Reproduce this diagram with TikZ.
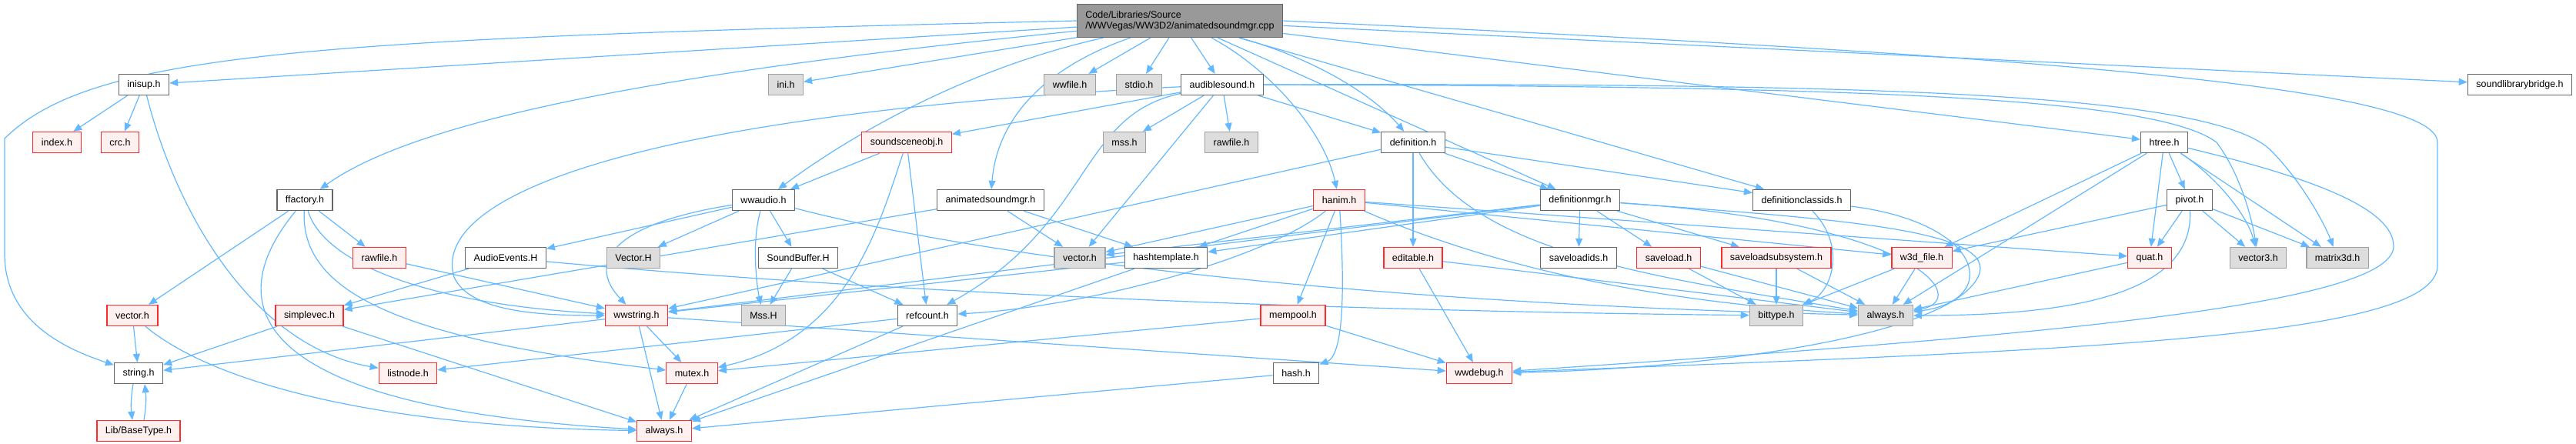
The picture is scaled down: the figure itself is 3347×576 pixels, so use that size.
\documentclass[tikz,border=0pt]{standalone}
\usepackage{fontspec}
\setmainfont{Liberation Sans}
\usetikzlibrary{arrows.meta,backgrounds}
\definecolor{edgeblue}{HTML}{63B8FF}
\definecolor{hdrborder}{HTML}{666666}
\definecolor{sysborder}{HTML}{A0A0A0}
\definecolor{sysfill}{HTML}{DDDDDD}
\definecolor{redborder}{HTML}{FF2A2A}
\definecolor{redfill}{HTML}{FFF0F0}
\definecolor{mainfill}{HTML}{999999}
\begin{document}
\begin{tikzpicture}[x=1pt, y=-1pt, >={Triangle[length=11pt,width=9pt]},
    hdr/.style={draw=hdrborder, fill=white, line width=1.3pt, minimum height=27pt, inner xsep=11pt, inner ysep=0pt, font=\fontsize{12.5}{14}\selectfont},
    syshdr/.style={hdr, draw=sysborder, fill=sysfill},
    redhdr/.style={hdr, draw=redborder, fill=redfill},
    mainfile/.style={hdr, fill=mainfill, align=left, minimum height=43pt},
    incl/.style={->, draw=edgeblue, line width=1.2pt}]
    \useasboundingbox (0,0) rectangle (3347,576);
    % File principale
    \node[mainfile] (main) at (1533,27) {Code/Libraries/Source\\/WWVegas/WW3D2/animatedsoundmgr.cpp};
    % Livello 1
    \node[hdr] (inisup) at (187,110) {inisup.h};
    \node[syshdr] (ini) at (1021,110) {ini.h};
    \node[syshdr] (wwfile) at (1390,110) {wwfile.h};
    \node[syshdr] (stdio) at (1480,110) {stdio.h};
    \node[hdr] (audible) at (1588,110) {audiblesound.h};
    \node[hdr] (bridge) at (3274,110) {soundlibrarybridge.h};
    % Livello 2
    \node[redhdr] (index) at (74,185) {index.h};
    \node[redhdr] (crc) at (156,185) {crc.h};
    \node[redhdr] (sceneobj) at (1178,185) {soundsceneobj.h};
    \node[syshdr] (mss) at (1461,185) {mss.h};
    \node[syshdr] (rawfileg) at (1600,185) {rawfile.h};
    \node[hdr] (definition) at (1836,185) {definition.h};
    \node[hdr] (htree) at (2812,185) {htree.h};
    % Livello 3
    \node[hdr] (ffactory) at (396,260) {ffactory.h};
    \node[hdr] (wwaudio) at (992,260) {wwaudio.h};
    \node[hdr] (animmgrh) at (1287,260) {animatedsoundmgr.h};
    \node[redhdr] (hanim) at (1740,260) {hanim.h};
    \node[hdr] (defmgr) at (2053,260) {definitionmgr.h};
    \node[hdr] (defclassids) at (2341,260) {definitionclassids.h};
    \node[hdr] (pivot) at (2845,260) {pivot.h};
    % Livello 4
    \node[redhdr] (rawfile) at (493,335) {rawfile.h};
    \node[hdr] (audioevents) at (657,335) {AudioEvents.H};
    \node[syshdr] (vectorH) at (823,335) {Vector.H};
    \node[hdr] (soundbuffer) at (1037,335) {SoundBuffer.H};
    \node[syshdr] (vectorg) at (1403,335) {vector.h};
    \node[hdr] (hashtemplate) at (1515,335) {hashtemplate.h};
    \node[redhdr] (editable) at (1836,335) {editable.h};
    \node[hdr] (saveloadids) at (2051,335) {saveloadids.h};
    \node[redhdr] (saveload) at (2168,335) {saveload.h};
    \node[redhdr] (saveloadsub) at (2308,335) {saveloadsubsystem.h};
    \node[redhdr] (w3dfile) at (2497,335) {w3d\_file.h};
    \node[redhdr] (quat) at (2793,335) {quat.h};
    \node[syshdr] (vector3) at (2934,335) {vector3.h};
    \node[syshdr] (matrix3d) at (3037,335) {matrix3d.h};
    % Livello 5
    \node[redhdr] (vectorr) at (172,410) {vector.h};
    \node[redhdr] (simplevec) at (402,410) {simplevec.h};
    \node[redhdr] (wwstring) at (827,410) {wwstring.h};
    \node[syshdr] (mssH) at (992,410) {Mss.H};
    \node[hdr] (refcount) at (1205,410) {refcount.h};
    \node[redhdr] (mempool) at (1680,410) {mempool.h};
    \node[syshdr] (bittype) at (2308,410) {bittype.h};
    \node[syshdr] (alwaysg) at (2450,410) {always.h};
    % Livello 6
    \node[hdr] (string) at (180,485) {string.h};
    \node[redhdr] (listnode) at (530,485) {listnode.h};
    \node[redhdr] (mutex) at (899,485) {mutex.h};
    \node[hdr] (hash) at (1684,485) {hash.h};
    \node[redhdr] (wwdebug) at (1922,485) {wwdebug.h};
    % Livello 7
    \node[redhdr] (basetype) at (180,560) {Lib/BaseType.h};
    \node[redhdr] (alwaysr) at (863,560) {always.h};

    \begin{pgfonlayer}{background}
    % Frecce dal file principale
    \draw[incl] (main) -- (inisup);
    \draw[incl] (main) -- (ini);
    \draw[incl] (main) -- (wwfile);
    \draw[incl] (main) -- (stdio);
    \draw[incl] (main) -- (audible);
    \draw[incl] (main.west) .. controls (400,50) and (120,68) .. (6,180) -- (6,330) .. controls (6,420) and (90,455) .. (string);
    \draw[incl] (main) .. controls (900,90) and (550,150) .. (ffactory);
    \draw[incl] (main) .. controls (1250,90) and (1100,180) .. (wwaudio);
    \draw[incl] (main) .. controls (1350,90) and (1295,160) .. (animmgrh);
    \draw[incl] (main) .. controls (1650,90) and (1720,170) .. (hanim);
    \draw[incl] (main) .. controls (1720,80) and (1790,130) .. (definition);
    \draw[incl] (main) -- (defmgr);
    \draw[incl] (main) -- (defclassids);
    \draw[incl] (main) -- (htree);
    \draw[incl] (main) -- (bridge);
    \draw[incl] (main.east) .. controls (2600,70) and (3167,110) .. (3167,185) -- (3167,345) .. controls (3167,440) and (2700,455) .. (wwdebug);

    % inisup.h e ffactory.h
    \draw[incl] (inisup) -- (index);
    \draw[incl] (inisup) -- (crc);
    \draw[incl] (inisup) .. controls (230,280) and (330,450) .. (listnode);
    \draw[incl] (ffactory) -- (vectorr);
    \draw[incl] (ffactory) -- (rawfile);
    \draw[incl] (ffactory) .. controls (420,340) and (550,395) .. (wwstring);
    \draw[incl] (ffactory) .. controls (390,380) and (520,440) .. (mutex);
    \draw[incl] (ffactory) .. controls (280,400) and (330,530) .. (alwaysr);
    \draw[incl] (rawfile) -- (wwstring);
    \draw[incl] (vectorr) -- (string);
    \draw[incl] (vectorr) .. controls (280,500) and (500,555) .. (alwaysr);
    \draw[incl] (simplevec) -- (string);
    \draw[incl] (simplevec) -- (alwaysr);
    \draw[incl] ([xshift=-7pt]string.south) to[bend right=8] ([xshift=-8pt]basetype.north);
    \draw[incl] ([xshift=7pt]basetype.north) to[bend right=8] ([xshift=8pt]string.south);

    % wwstring.h e dintorni
    \draw[incl] (wwstring) -- (string);
    \draw[incl] (wwstring) -- (mutex);
    \draw[incl] (wwstring) -- (alwaysr);
    \draw[incl] (wwstring) -- (wwdebug);
    \draw[incl] (mutex) -- (alwaysr);
    \draw[incl] (refcount) -- (listnode);
    \draw[incl] (refcount) -- (alwaysr);
    \draw[incl] (hashtemplate) -- (wwstring);
    \draw[incl] (hashtemplate) -- (alwaysr);
    \draw[incl] (hash) -- (alwaysr);
    \draw[incl] (mempool) -- (mutex);
    \draw[incl] (mempool) -- (wwdebug);

    % wwaudio.h
    \draw[incl] (wwaudio) -- (audioevents);
    \draw[incl] (wwaudio) -- (vectorH);
    \draw[incl] (wwaudio) -- (soundbuffer);
    \draw[incl] (wwaudio) .. controls (975,320) and (985,380) .. (mssH);
    \draw[incl] (wwaudio) .. controls (800,290) and (760,340) .. (wwstring);
    \draw[incl] (wwaudio) .. controls (1300,340) and (1800,395) .. (alwaysg);
    \draw[incl] (audioevents) -- (simplevec);
    \draw[incl] (audioevents) .. controls (1200,385) and (1800,405) .. (bittype);
    \draw[incl] (soundbuffer) -- (mssH);
    \draw[incl] (soundbuffer) -- (refcount);
    \draw[incl] (sceneobj) -- (wwaudio);
    \draw[incl] (sceneobj) -- (refcount);
    \draw[incl] (sceneobj) .. controls (1140,300) and (1100,440) .. (mutex);

    % audiblesound.h
    \draw[incl] (audible) -- (sceneobj);
    \draw[incl] (audible) -- (mss);
    \draw[incl] (audible) -- (rawfileg);
    \draw[incl] (audible) -- (vectorg);
    \draw[incl] (audible) .. controls (1400,150) and (1420,290) .. (refcount);
    \draw[incl] (audible) -- (definition);
    \draw[incl] (audible) .. controls (800,150) and (560,260) .. (590,360) .. controls (610,405) and (700,410) .. (wwstring);
    \draw[incl] (audible.east) .. controls (2400,112) and (2800,125) .. (2880,185) .. controls (2910,225) and (2925,280) .. (vector3);
    \draw[incl] (audible.east) .. controls (2400,108) and (2870,118) .. (2950,195) .. controls (2990,235) and (3020,290) .. (matrix3d);
    \draw[incl] (animmgrh) -- (simplevec);
    \draw[incl] (animmgrh) -- (vectorg);
    \draw[incl] (animmgrh) -- (hashtemplate);

    % definition.h e definitionmgr.h
    \draw[incl] (definition) -- (editable);
    \draw[incl] (definition) -- (defmgr);
    \draw[incl] (definition) -- (defclassids);
    \draw[incl] (definition) -- (wwstring);
    \draw[incl] (definition) .. controls (1920,330) and (2150,360) .. (alwaysg);
    \draw[incl] (editable) -- (wwdebug);
    \draw[incl] (editable) -- (alwaysg);
    \draw[incl] (defmgr) -- (vectorg);
    \draw[incl] (defmgr) -- (hashtemplate);
    \draw[incl] (defmgr) -- (wwstring);
    \draw[incl] (defmgr) -- (saveloadids);
    \draw[incl] (defmgr) -- (saveload);
    \draw[incl] (defmgr) -- (saveloadsub);
    \draw[incl] (defmgr) .. controls (2500,290) and (2560,390) .. (alwaysg);
    \draw[incl] (defmgr) .. controls (2400,285) and (2600,300) .. (2570,360) .. controls (2530,440) and (2200,480) .. (wwdebug);
    \draw[incl] (defclassids) .. controls (2400,320) and (2380,380) .. (bittype);
    \draw[incl] (defclassids) .. controls (2580,290) and (2600,390) .. (alwaysg);
    \draw[incl] (saveload) -- (bittype);
    \draw[incl] (saveload) -- (alwaysg);
    \draw[incl] (saveloadsub) -- (bittype);
    \draw[incl] (saveloadsub) -- (alwaysg);
    \draw[incl] (w3dfile) -- (bittype);
    \draw[incl] (w3dfile) -- (alwaysg);

    % hanim.h
    \draw[incl] (hanim) -- (vectorg);
    \draw[incl] (hanim) -- (hashtemplate);
    \draw[incl] (hanim) .. controls (1640,340) and (1400,400) .. (refcount);
    \draw[incl] (hanim) -- (mempool);
    \draw[incl] (hanim) .. controls (1745,340) and (1750,460) .. (hash);
    \draw[incl] (hanim) -- (w3dfile);
    \draw[incl] (hanim) -- (quat);
    \draw[incl] (hanim) .. controls (1900,330) and (2100,390) .. (alwaysg);

    % htree.h e pivot.h
    \draw[incl] (htree) -- (w3dfile);
    \draw[incl] (htree) -- (alwaysg);
    \draw[incl] (htree) -- (quat);
    \draw[incl] (htree) -- (pivot);
    \draw[incl] (htree) .. controls (2880,230) and (2920,280) .. (vector3);
    \draw[incl] (htree) -- (matrix3d);
    \draw[incl] (htree) .. controls (3000,230) and (3110,270) .. (3110,320) .. controls (3110,400) and (2600,440) .. (wwdebug);
    \draw[incl] (pivot) -- (w3dfile);
    \draw[incl] (pivot) -- (quat);
    \draw[incl] (pivot) -- (vector3);
    \draw[incl] (pivot) -- (matrix3d);
    \draw[incl] (pivot) .. controls (2850,380) and (2700,410) .. (alwaysg);
    \draw[incl] (quat) -- (alwaysg);
    \end{pgfonlayer}
\end{tikzpicture}
\end{document}
